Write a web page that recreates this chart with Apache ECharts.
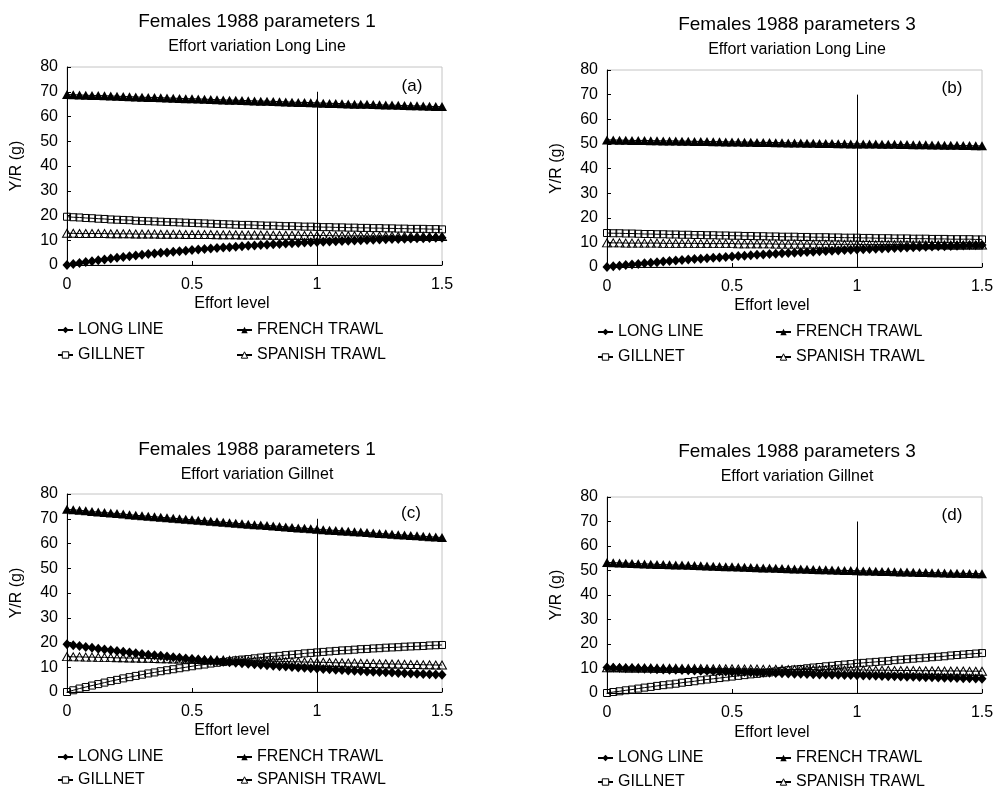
<!DOCTYPE html>
<html>
<head>
<meta charset="utf-8">
<title>Females 1988 - Y/R by effort level</title>
<script src="https://cdn.jsdelivr.net/npm/echarts@6/dist/echarts.min.js"></script>
<style>
  html, body { margin: 0; padding: 0; background: #fff; }
  #chart { width: 997px; height: 791px; }
</style>
</head>
<body>
<div id="chart"></div>
<script>
// effort level (x), shared by all four panels
const effort = [0, 0.025, 0.05, 0.075, 0.1, 0.125, 0.15, 0.175, 0.2, 0.225,
  0.25, 0.275, 0.3, 0.325, 0.35, 0.375, 0.4, 0.425, 0.45, 0.475,
  0.5, 0.525, 0.55, 0.575, 0.6, 0.625, 0.65, 0.675, 0.7, 0.725,
  0.75, 0.775, 0.8, 0.825, 0.85, 0.875, 0.9, 0.925, 0.95, 0.975,
  1, 1.025, 1.05, 1.075, 1.1, 1.125, 1.15, 1.175, 1.2, 1.225,
  1.25, 1.275, 1.3, 1.325, 1.35, 1.375, 1.4, 1.425, 1.45, 1.475,
  1.5];

const seriesNames = ['LONG LINE', 'FRENCH TRAWL', 'GILLNET', 'SPANISH TRAWL'];
const yTicks = [0, 10, 20, 30, 40, 50, 60, 70, 80];
const xTicks = [0, 0.5, 1, 1.5];

// (a) parameters 1, effort variation Long Line
const llA = [0, 0.4, 0.8, 1.2, 1.5, 1.9, 2.2, 2.6, 2.9, 3.2,
  3.5, 3.8, 4.1, 4.4, 4.6, 4.9, 5.1, 5.4, 5.6, 5.8,
  6.1, 6.3, 6.5, 6.7, 6.9, 7.1, 7.2, 7.4, 7.6, 7.8,
  7.9, 8.1, 8.2, 8.4, 8.5, 8.7, 8.8, 8.9, 9.1, 9.2,
  9.3, 9.4, 9.5, 9.6, 9.7, 9.8, 9.9, 10.0, 10.1, 10.2,
  10.3, 10.4, 10.5, 10.5, 10.6, 10.7, 10.8, 10.8, 10.9, 11.0,
  11.0];
const ftA = [68.9, 68.8, 68.7, 68.6, 68.5, 68.5, 68.4, 68.3, 68.2, 68.1,
  68.0, 67.9, 67.8, 67.7, 67.7, 67.6, 67.5, 67.4, 67.3, 67.2,
  67.2, 67.1, 67.0, 66.9, 66.8, 66.7, 66.6, 66.6, 66.5, 66.4,
  66.3, 66.2, 66.2, 66.1, 66.0, 65.9, 65.8, 65.7, 65.7, 65.6,
  65.5, 65.4, 65.3, 65.3, 65.2, 65.1, 65.0, 65.0, 64.9, 64.8,
  64.7, 64.6, 64.6, 64.5, 64.4, 64.3, 64.3, 64.2, 64.1, 64.0,
  64.0];
const gnA = [19.5, 19.3, 19.2, 19.0, 18.9, 18.7, 18.6, 18.4, 18.3, 18.2,
  18.1, 17.9, 17.8, 17.7, 17.6, 17.5, 17.4, 17.3, 17.2, 17.1,
  17.0, 16.9, 16.8, 16.7, 16.6, 16.5, 16.4, 16.3, 16.2, 16.2,
  16.1, 16.0, 15.9, 15.9, 15.8, 15.7, 15.7, 15.6, 15.5, 15.5,
  15.4, 15.3, 15.3, 15.2, 15.2, 15.1, 15.1, 15.0, 15.0, 14.9,
  14.9, 14.8, 14.8, 14.7, 14.7, 14.6, 14.6, 14.6, 14.5, 14.5,
  14.4];
const stA = [12.8, 12.8, 12.7, 12.7, 12.7, 12.7, 12.7, 12.6, 12.6, 12.6,
  12.6, 12.5, 12.5, 12.5, 12.5, 12.4, 12.4, 12.4, 12.4, 12.3,
  12.3, 12.3, 12.3, 12.3, 12.2, 12.2, 12.2, 12.2, 12.1, 12.1,
  12.1, 12.1, 12.1, 12.0, 12.0, 12.0, 12.0, 12.0, 11.9, 11.9,
  11.9, 11.9, 11.9, 11.8, 11.8, 11.8, 11.8, 11.8, 11.7, 11.7,
  11.7, 11.7, 11.7, 11.6, 11.6, 11.6, 11.6, 11.6, 11.5, 11.5,
  11.5];

// (b) parameters 3, effort variation Long Line
const llB = [0, 0.3, 0.5, 0.8, 1.0, 1.2, 1.5, 1.7, 1.9, 2.2,
  2.4, 2.6, 2.8, 3.0, 3.2, 3.4, 3.6, 3.8, 3.9, 4.1,
  4.3, 4.5, 4.6, 4.8, 5.0, 5.1, 5.3, 5.4, 5.6, 5.7,
  5.8, 6.0, 6.1, 6.2, 6.4, 6.5, 6.6, 6.7, 6.9, 7.0,
  7.1, 7.2, 7.3, 7.4, 7.5, 7.6, 7.7, 7.8, 7.9, 8.0,
  8.1, 8.2, 8.3, 8.4, 8.4, 8.5, 8.6, 8.7, 8.8, 8.8,
  8.9];
const ftB = [51.6, 51.6, 51.5, 51.5, 51.4, 51.4, 51.4, 51.3, 51.3, 51.2,
  51.2, 51.2, 51.1, 51.1, 51.0, 51.0, 51.0, 50.9, 50.9, 50.8,
  50.8, 50.8, 50.7, 50.7, 50.6, 50.6, 50.6, 50.5, 50.5, 50.4,
  50.4, 50.4, 50.3, 50.3, 50.2, 50.2, 50.2, 50.1, 50.1, 50.0,
  50.0, 50.0, 49.9, 49.9, 49.8, 49.8, 49.8, 49.7, 49.7, 49.6,
  49.6, 49.6, 49.5, 49.5, 49.4, 49.4, 49.4, 49.3, 49.3, 49.2,
  49.2];
const gnB = [13.8, 13.7, 13.7, 13.6, 13.6, 13.5, 13.4, 13.4, 13.3, 13.3,
  13.2, 13.2, 13.1, 13.1, 13.0, 13.0, 12.9, 12.9, 12.8, 12.8,
  12.7, 12.7, 12.6, 12.6, 12.5, 12.5, 12.4, 12.4, 12.3, 12.3,
  12.3, 12.2, 12.2, 12.1, 12.1, 12.1, 12.0, 12.0, 11.9, 11.9,
  11.9, 11.8, 11.8, 11.7, 11.7, 11.7, 11.6, 11.6, 11.6, 11.5,
  11.5, 11.5, 11.4, 11.4, 11.4, 11.3, 11.3, 11.3, 11.3, 11.2,
  11.2];
const stB = [9.8, 9.8, 9.8, 9.7, 9.7, 9.7, 9.7, 9.7, 9.7, 9.6,
  9.6, 9.6, 9.6, 9.6, 9.6, 9.5, 9.5, 9.5, 9.5, 9.5,
  9.5, 9.4, 9.4, 9.4, 9.4, 9.4, 9.4, 9.3, 9.3, 9.3,
  9.3, 9.3, 9.3, 9.3, 9.2, 9.2, 9.2, 9.2, 9.2, 9.2,
  9.2, 9.1, 9.1, 9.1, 9.1, 9.1, 9.1, 9.1, 9.0, 9.0,
  9.0, 9.0, 9.0, 9.0, 9.0, 8.9, 8.9, 8.9, 8.9, 8.9,
  8.9];

// (c) parameters 1, effort variation Gillnet
const llC = [19.3, 18.9, 18.6, 18.2, 17.9, 17.5, 17.2, 16.9, 16.6, 16.3,
  16.0, 15.7, 15.4, 15.1, 14.8, 14.6, 14.3, 14.0, 13.8, 13.5,
  13.3, 13.1, 12.8, 12.6, 12.4, 12.2, 12.0, 11.8, 11.6, 11.4,
  11.2, 11.0, 10.8, 10.6, 10.4, 10.3, 10.1, 9.9, 9.8, 9.6,
  9.5, 9.3, 9.2, 9.0, 8.9, 8.7, 8.6, 8.5, 8.3, 8.2,
  8.1, 8.0, 7.9, 7.7, 7.6, 7.5, 7.4, 7.3, 7.2, 7.1,
  7.0];
const ftC = [73.8, 73.6, 73.4, 73.2, 72.9, 72.7, 72.5, 72.3, 72.1, 71.9,
  71.6, 71.4, 71.2, 71.0, 70.8, 70.6, 70.4, 70.2, 70.0, 69.8,
  69.6, 69.4, 69.2, 69.0, 68.8, 68.6, 68.4, 68.2, 68.0, 67.8,
  67.6, 67.5, 67.3, 67.1, 66.9, 66.7, 66.5, 66.3, 66.2, 66.0,
  65.8, 65.6, 65.4, 65.3, 65.1, 64.9, 64.7, 64.6, 64.4, 64.2,
  64.0, 63.9, 63.7, 63.5, 63.4, 63.2, 63.1, 62.9, 62.7, 62.6,
  62.4];
const gnC = [0, 0.7, 1.4, 2.0, 2.6, 3.2, 3.8, 4.4, 4.9, 5.5,
  6.0, 6.5, 7.0, 7.5, 7.9, 8.4, 8.8, 9.2, 9.6, 10.0,
  10.4, 10.8, 11.1, 11.5, 11.8, 12.1, 12.4, 12.8, 13.1, 13.3,
  13.6, 13.9, 14.2, 14.4, 14.6, 14.9, 15.1, 15.3, 15.6, 15.8,
  16.0, 16.2, 16.4, 16.6, 16.8, 16.9, 17.1, 17.3, 17.4, 17.6,
  17.7, 17.9, 18.0, 18.1, 18.3, 18.4, 18.5, 18.6, 18.8, 18.9,
  19.0];
const stC = [14.3, 14.2, 14.2, 14.1, 14.1, 14.0, 14.0, 13.9, 13.8, 13.8,
  13.7, 13.7, 13.6, 13.6, 13.5, 13.4, 13.4, 13.3, 13.3, 13.2,
  13.2, 13.1, 13.0, 13.0, 12.9, 12.9, 12.8, 12.8, 12.7, 12.6,
  12.6, 12.5, 12.5, 12.4, 12.4, 12.3, 12.2, 12.2, 12.1, 12.1,
  12.0, 12.0, 11.9, 11.8, 11.8, 11.7, 11.7, 11.6, 11.5, 11.5,
  11.4, 11.4, 11.3, 11.3, 11.2, 11.1, 11.1, 11.0, 11.0, 10.9,
  10.9];

// (d) parameters 3, effort variation Gillnet
const llD = [10.4, 10.3, 10.2, 10.1, 10.1, 10.0, 9.9, 9.8, 9.7, 9.6,
  9.5, 9.5, 9.4, 9.3, 9.2, 9.1, 9.1, 9.0, 8.9, 8.8,
  8.7, 8.7, 8.6, 8.5, 8.4, 8.3, 8.3, 8.2, 8.1, 8.0,
  7.9, 7.9, 7.8, 7.7, 7.6, 7.6, 7.5, 7.4, 7.3, 7.3,
  7.2, 7.1, 7.1, 7.0, 6.9, 6.8, 6.8, 6.7, 6.6, 6.6,
  6.5, 6.4, 6.4, 6.3, 6.2, 6.2, 6.1, 6.0, 6.0, 5.9,
  5.8];
const ftD = [53.3, 53.2, 53.1, 53.0, 52.9, 52.8, 52.7, 52.6, 52.5, 52.4,
  52.3, 52.2, 52.2, 52.1, 52.0, 51.9, 51.8, 51.7, 51.6, 51.5,
  51.5, 51.4, 51.3, 51.2, 51.1, 51.0, 51.0, 50.9, 50.8, 50.7,
  50.6, 50.6, 50.5, 50.4, 50.3, 50.3, 50.2, 50.1, 50.0, 50.0,
  49.9, 49.8, 49.8, 49.7, 49.6, 49.6, 49.5, 49.4, 49.4, 49.3,
  49.2, 49.2, 49.1, 49.1, 49.0, 48.9, 48.9, 48.8, 48.8, 48.7,
  48.7];
const gnD = [0, 0.4, 0.7, 1.1, 1.4, 1.8, 2.2, 2.5, 2.9, 3.2,
  3.5, 3.8, 4.2, 4.5, 4.8, 5.2, 5.5, 5.8, 6.1, 6.4,
  6.7, 7.0, 7.3, 7.6, 7.8, 8.1, 8.4, 8.8, 9.0, 9.3,
  9.6, 9.8, 10.1, 10.4, 10.6, 10.9, 11.1, 11.4, 11.6, 11.8,
  12.1, 12.3, 12.5, 12.7, 12.9, 13.1, 13.4, 13.6, 13.8, 14.0,
  14.2, 14.4, 14.6, 14.8, 15.0, 15.3, 15.5, 15.7, 15.9, 16.1,
  16.3];
const stD = [10.3, 10.3, 10.3, 10.2, 10.2, 10.2, 10.2, 10.2, 10.1, 10.1,
  10.1, 10.1, 10.0, 10.0, 10.0, 10.0, 9.9, 9.9, 9.9, 9.9,
  9.9, 9.8, 9.8, 9.8, 9.8, 9.7, 9.7, 9.7, 9.7, 9.6,
  9.6, 9.6, 9.6, 9.6, 9.5, 9.5, 9.5, 9.5, 9.4, 9.4,
  9.4, 9.4, 9.3, 9.3, 9.3, 9.3, 9.2, 9.2, 9.2, 9.2,
  9.1, 9.1, 9.1, 9.1, 9.0, 9.0, 9.0, 9.0, 8.9, 8.9,
  8.9];

// reference line at effort level 1
const refLineX = 1;
const refLineTop = 70;

const FONT = '"Liberation Sans", Arial, Helvetica, sans-serif';

const panels = [
  { letter: '(a)', title: 'Females 1988 parameters 1', sub: 'Effort variation Long Line',
    values: [llA, ftA, gnA, stA],
    box: { left: 67, top: 67, width: 375, height: 198 },
    titleX: 257, titleY: 22, subY: 47, letterX: 412, letterY: 86, xNameX: 232, xNameY: 304,
    legX: [57, 236], legY: [330, 355] },
  { letter: '(b)', title: 'Females 1988 parameters 3', sub: 'Effort variation Long Line',
    values: [llB, ftB, gnB, stB],
    box: { left: 607, top: 70, width: 375, height: 197 },
    titleX: 797, titleY: 25, subY: 50, letterX: 952, letterY: 88, xNameX: 772, xNameY: 306,
    legX: [597, 775], legY: [332, 357] },
  { letter: '(c)', title: 'Females 1988 parameters 1', sub: 'Effort variation Gillnet',
    values: [llC, ftC, gnC, stC],
    box: { left: 67, top: 494, width: 375, height: 198 },
    titleX: 257, titleY: 450, subY: 475, letterX: 411, letterY: 513, xNameX: 232, xNameY: 731,
    legX: [57, 236], legY: [757, 780] },
  { letter: '(d)', title: 'Females 1988 parameters 3', sub: 'Effort variation Gillnet',
    values: [llD, ftD, gnD, stD],
    box: { left: 607, top: 497, width: 375, height: 196 },
    titleX: 797, titleY: 452, subY: 477, letterX: 952, letterY: 515, xNameX: 772, xNameY: 733,
    legX: [597, 775], legY: [758, 782] }
];

// marker look of each fishery
const hollow = { color: 'rgba(255,255,255,0)', borderColor: '#000', borderWidth: 1 };
const markerStyle = {
  'LONG LINE': { symbol: 'diamond', symbolSize: [9, 10], itemStyle: { color: '#000' } },
  'FRENCH TRAWL': { symbol: 'triangle', symbolSize: [10, 9], itemStyle: { color: '#000' } },
  'GILLNET': { symbol: 'rect', symbolSize: 7, itemStyle: hollow },
  'SPANISH TRAWL': { symbol: 'triangle', symbolSize: [9, 8], itemStyle: hollow }
};
// legend keys: short line with a small marker
const legendItemStyle = {
  'LONG LINE': { color: '#000' },
  'FRENCH TRAWL': { color: '#000' },
  'GILLNET': { color: '#fff', borderColor: '#000', borderWidth: 1 },
  'SPANISH TRAWL': { color: '#fff', borderColor: '#000', borderWidth: 1 }
};

const grids = [], xAxes = [], yAxes = [], series = [], legends = [], texts = [];

panels.forEach(function (p, i) {
  grids.push({
    left: p.box.left, top: p.box.top, width: p.box.width, height: p.box.height,
    show: true, borderColor: '#c4c4c4', borderWidth: 1
  });
  xAxes.push({
    type: 'value', gridIndex: i, min: xTicks[0], max: xTicks[xTicks.length - 1], interval: 0.5,
    axisLine: { show: true, onZero: false, lineStyle: { color: '#000', width: 1 } },
    axisTick: { show: true, inside: true, length: 4, lineStyle: { color: '#000' } },
    axisLabel: { color: '#000', fontSize: 16, fontFamily: FONT, margin: 12 },
    splitLine: { show: false }
  });
  yAxes.push({
    type: 'value', gridIndex: i, min: yTicks[0], max: yTicks[yTicks.length - 1], interval: 10,
    name: 'Y/R (g)', nameLocation: 'middle', nameGap: 42, nameRotate: 90,
    nameTextStyle: { color: '#000', fontSize: 16, fontFamily: FONT },
    axisLine: { show: true, onZero: false, lineStyle: { color: '#000', width: 1 } },
    axisTick: { show: true, inside: true, length: 4, lineStyle: { color: '#000' } },
    axisLabel: { color: '#000', fontSize: 16, fontFamily: FONT, margin: 9 },
    splitLine: { show: false }
  });

  seriesNames.forEach(function (name, k) {
    const s = {
      name: name, type: 'line', xAxisIndex: i, yAxisIndex: i,
      data: effort.map(function (x, j) { return [x, p.values[k][j]]; }),
      symbol: markerStyle[name].symbol,
      symbolSize: markerStyle[name].symbolSize,
      showSymbol: true, showAllSymbol: true,
      itemStyle: markerStyle[name].itemStyle,
      lineStyle: { color: '#000', width: 1 },
      emphasis: { disabled: true },
      z: 3
    };
    if (k === 1) {
      s.markLine = {
        silent: true, symbol: ['none', 'none'], label: { show: false },
        lineStyle: { color: '#000', width: 1, type: 'solid' },
        data: [[{ coord: [refLineX, 0] }, { coord: [refLineX, refLineTop] }]]
      };
    }
    series.push(s);
  });

  // 2 x 2 legend under each panel
  const slots = [[0, 0], [1, 0], [0, 1], [1, 1]];
  seriesNames.forEach(function (name, k) {
    legends.push({
      data: [{ name: name, itemStyle: legendItemStyle[name] }],
      selectedMode: false, padding: 0,
      left: p.legX[slots[k][0]], top: p.legY[slots[k][1]] - 8,
      itemWidth: 15, itemHeight: 8,
      textStyle: { color: '#000', fontSize: 16, fontFamily: FONT }
    });
  });

  texts.push(
    { type: 'text', x: p.titleX, y: p.titleY,
      style: { text: p.title, font: '19px ' + FONT, fill: '#000',
        textAlign: 'center', textVerticalAlign: 'middle', align: 'center', verticalAlign: 'middle' } },
    { type: 'text', x: p.titleX, y: p.subY,
      style: { text: p.sub, font: '16px ' + FONT, fill: '#000',
        textAlign: 'center', textVerticalAlign: 'middle', align: 'center', verticalAlign: 'middle' } },
    { type: 'text', x: p.letterX, y: p.letterY,
      style: { text: p.letter, font: '17px ' + FONT, fill: '#000',
        textAlign: 'center', textVerticalAlign: 'middle', align: 'center', verticalAlign: 'middle' } },
    { type: 'text', x: p.xNameX, y: p.xNameY,
      style: { text: 'Effort level', font: '16px ' + FONT, fill: '#000',
        textAlign: 'center', textVerticalAlign: 'middle', align: 'center', verticalAlign: 'middle' } }
  );
});

const chart = echarts.init(document.getElementById('chart'));
chart.setOption({
  backgroundColor: '#fff',
  animation: false,
  grid: grids,
  xAxis: xAxes,
  yAxis: yAxes,
  legend: legends,
  series: series,
  graphic: { elements: texts }
});
</script>
</body>
</html>
